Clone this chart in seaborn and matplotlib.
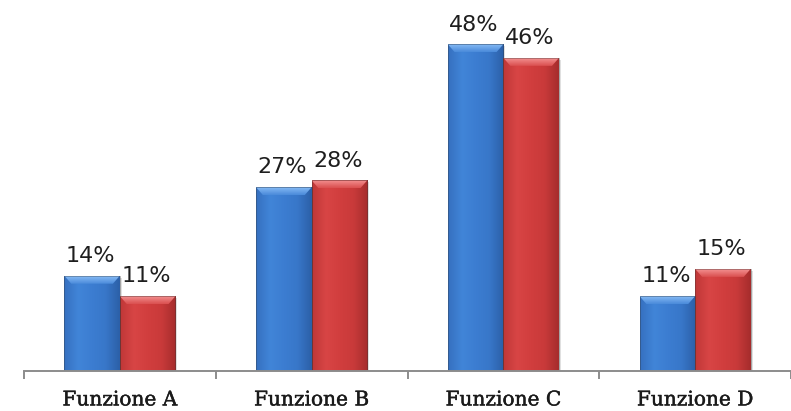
import numpy as np
import pandas as pd
import matplotlib
matplotlib.use("Agg")
import matplotlib.pyplot as plt
import matplotlib.patheffects as pe
import seaborn as sns
from matplotlib.colors import LinearSegmentedColormap

categories = ["Funzione A", "Funzione B", "Funzione C", "Funzione D"]
series_names = ["Serie 1", "Serie 2"]
serie_1 = [14, 27, 48, 11]
serie_2 = [11, 28, 46, 15]

df = pd.DataFrame({
    "categoria": categories * 2,
    "serie": [series_names[0]] * 4 + [series_names[1]] * 4,
    "valore": serie_1 + serie_2,
})

sns.set_theme(style="white")
plt.rcParams["font.family"] = ["DejaVu Sans"]

fig = plt.figure(figsize=(7.91, 4.11), dpi=100)
ax = fig.add_axes([24 / 791, 40 / 411, 767 / 791, 371 / 411])

palette = {"Serie 1": "#3b7cd0", "Serie 2": "#d03d3d"}
sns.barplot(data=df, x="categoria", y="valore", hue="serie", palette=palette,
            width=0.58, gap=0, saturation=1, legend=False, ax=ax,
            edgecolor="none")

ax.set_xlim(-0.5, 3.5)
ax.set_ylim(0, 54.5)

# bevelled face colours for each series: left edge, face, face, right edge
shades = {
    "Serie 1": ["#3670c0", "#4185d8", "#3c7dd1", "#3877c9", "#2c60a8"],
    "Serie 2": ["#c03737", "#d84545", "#d13e3e", "#c93a3a", "#a62d2d"],
}
tops = {"Serie 1": ("#86bbf5", "#4a8ada"), "Serie 2": ("#f39090", "#da4f4f")}

# convert pixel sizes of the bevels into data units
px_x = (3.5 - -0.5) / 767.0
px_y = 54.5 / 371.0

patches = list(ax.patches)
for i, p in enumerate(patches):
    name = series_names[i // len(categories)]
    x0, y0 = p.get_x(), p.get_y()
    w, h = p.get_width(), p.get_height()
    cmap = LinearSegmentedColormap.from_list("face", shades[name])
    grad = np.linspace(0, 1, 64).reshape(1, -1)
    im = ax.imshow(grad, cmap=cmap, aspect="auto", extent=(x0, x0 + w, y0, y0 + h),
                   zorder=3, interpolation="bicubic")
    im.set_clip_path(p)

    # top bevel as a vertical gradient inside a trapezoid
    bh = 8 * px_y
    inset = 7 * px_x
    tcmap = LinearSegmentedColormap.from_list("top", [tops[name][1], tops[name][0]])
    tgrad = np.linspace(0, 1, 32).reshape(-1, 1)[::-1]
    poly = plt.Polygon([[x0, y0 + h], [x0 + w, y0 + h], [x0 + w - inset, y0 + h - bh],
                        [x0 + inset, y0 + h - bh]], closed=True, facecolor="none",
                       edgecolor="none", transform=ax.transData)
    ax.add_patch(poly)
    tim = ax.imshow(tgrad, cmap=tcmap, aspect="auto",
                    extent=(x0, x0 + w, y0 + h - bh, y0 + h), zorder=4,
                    interpolation="bicubic")
    tim.set_clip_path(poly)

    # thin outline and soft shadow on the right side
    ax.plot([x0, x0, x0 + w, x0 + w], [y0, y0 + h, y0 + h, y0], color="#333333", lw=0.7,
            alpha=0.35, zorder=5)
    ax.fill([x0 + w, x0 + w + 2 * px_x, x0 + w + 2 * px_x, x0 + w],
            [y0, y0, y0 + h - 2 * px_y, y0 + h - 2 * px_y], color="#000000",
            alpha=0.12, lw=0, zorder=2)

    val = p.get_height()
    ax.annotate(f"{val:.0f}%", (x0 + w / 2 - 1.5 * px_x, y0 + h), xytext=(0, 7),
                textcoords="offset points", ha="center", va="bottom", fontsize=16,
                color="#1e1e1e", family=["DejaVu Sans"], zorder=6)

ax.set_xlim(-0.5, 3.5)
ax.set_ylim(0, 54.5)

for s in ["top", "right", "left"]:
    ax.spines[s].set_visible(False)
ax.spines["bottom"].set_color("#8c8c8c")
ax.spines["bottom"].set_linewidth(1.4)
ax.spines["bottom"].set_zorder(7)
ax.set_yticks([])
ax.set_xlabel("")
ax.set_ylabel("")
ax.set_xticks(np.arange(len(categories)))
ax.set_xticklabels(categories, family=["DejaVu Serif"], fontsize=14.5, color="#1a1a1a")
for lbl in ax.get_xticklabels():
    lbl.set_path_effects([pe.withStroke(linewidth=0.3, foreground="#1a1a1a")])
ax.tick_params(axis="x", length=0, pad=14)
ax.set_xticks(np.arange(-0.5, 4.0, 1.0), minor=True)
ax.tick_params(axis="x", which="minor", length=6, width=1.4, color="#8c8c8c", bottom=True)

fig.savefig("out.png", dpi=100)
